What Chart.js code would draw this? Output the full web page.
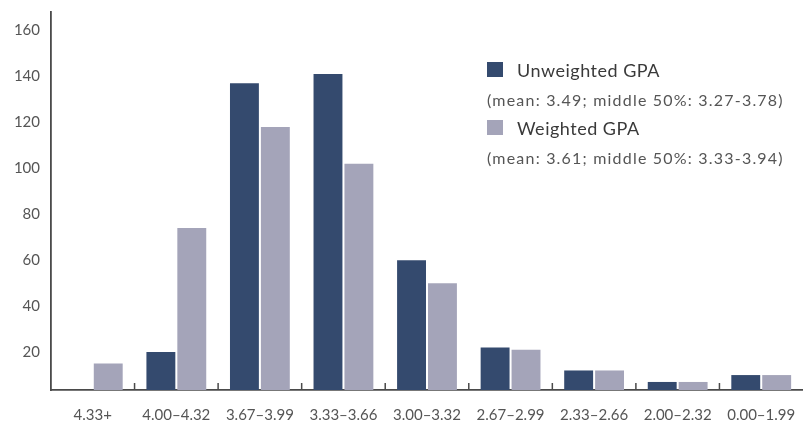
<!DOCTYPE html>
<html>
<head>
<meta charset="utf-8">
<title>GPA distribution</title>
<script src="https://cdn.jsdelivr.net/npm/chart.js@4.4.1/dist/chart.umd.min.js"></script>
<style>
  html, body { margin: 0; padding: 0; background: #fff; overflow: hidden; }
  #wrap { width: 803px; height: 421px; position: relative; }
</style>
</head>
<body>
<div id="wrap"><canvas id="chart"></canvas></div>
<script>
  "use strict";

  // ---- data ----
  const categories = ["4.33+", "4.00–4.32", "3.67–3.99", "3.33–3.66", "3.00–3.32",
                      "2.67–2.99", "2.33–2.66", "2.00–2.32", "0.00–1.99"];
  const unweighted = [0, 20, 137, 141, 60, 22, 12, 7, 10];
  const weighted   = [15, 74, 118, 102, 50, 21, 12, 7, 10];
  const seriesNames = ["Unweighted GPA", "Weighted GPA"];
  const seriesNotes = ["(mean: 3.49; middle 50%: 3.27-3.78)",
                       "(mean: 3.61; middle 50%: 3.33-3.94)"];
  const yTicks = [20, 40, 60, 80, 100, 120, 140, 160];

  const NAVY = "#344a6e";
  const GREY = "#a4a4b9";
  const AXIS = "#4a4a4a";
  const FONT = "Lato, 'Open Sans', sans-serif";

  /* Legend drawn by hand: swatch + name, then the note on its own line */
  const noteLegend = {
    id: "noteLegend",
    afterDraw(chart) {
      const ctx = chart.ctx;
      const x = 487, rows = [70, 128];
      ctx.save();
      ctx.textBaseline = "middle";
      chart.data.datasets.forEach((ds, i) => {
        const y = rows[i];
        ctx.fillStyle = ds.backgroundColor;
        ctx.fillRect(x, y - 8, 16, 15);
        ctx.fillStyle = "#3a3a3a";
        ctx.font = "18px " + FONT;
        ctx.letterSpacing = "0.5px";
        ctx.fillText(ds.label, x + 30, y + 1);
        ctx.fillStyle = "#555";
        ctx.font = "16px " + FONT;
        ctx.letterSpacing = "1.2px";
        ctx.fillText(seriesNotes[i], x, y + 31);
      });
      ctx.restore();
    },
  };

  /* Short upward tick marks between categories, sitting on the x axis */
  const catTicks = {
    id: "catTicks",
    afterDatasetsDraw(chart) {
      const xs = chart.scales.x, ctx = chart.ctx;
      const base = chart.chartArea.bottom;
      ctx.save();
      ctx.strokeStyle = AXIS;
      ctx.lineWidth = 1.5;
      ctx.beginPath();
      for (let i = 1; i < categories.length; i++) {
        const px = (xs.getPixelForValue(i - 1) + xs.getPixelForValue(i)) / 2;
        ctx.moveTo(px, base);
        ctx.lineTo(px, base - 7);
      }
      ctx.stroke();
      ctx.restore();
    },
  };

  new Chart(document.getElementById("chart"), {
    type: "bar",
    data: {
      labels: categories,
      datasets: [
        { label: seriesNames[0], data: unweighted, backgroundColor: NAVY },
        { label: seriesNames[1], data: weighted, backgroundColor: GREY },
      ],
    },
    options: {
      responsive: true,
      maintainAspectRatio: false,
      animation: false,
      layout: { padding: { top: 12, right: 0, left: 0, bottom: 0 } },
      datasets: { bar: { categoryPercentage: 0.74, barPercentage: 0.935 } },
      plugins: { legend: { display: false }, tooltip: { enabled: false } },
      scales: {
        x: {
          grid: { display: false, drawTicks: false },
          border: { color: AXIS, width: 1.8 },
          ticks: { color: "#555", font: { family: FONT, size: 15 }, padding: 16, maxRotation: 0, autoSkip: false },
          afterFit: (s) => { s.height = 31; s.paddingLeft = 0; s.paddingRight = 0; },
        },
        y: {
          min: 3.5,
          max: 168,
          afterBuildTicks: (axis) => { axis.ticks = yTicks.map((v) => ({ value: v })); },
          grid: { display: false, drawTicks: false },
          border: { color: AXIS, width: 1.8 },
          ticks: { color: "#555", font: { family: FONT, size: 15 }, padding: 11 },
          afterFit: (s) => { s.width = 51; s.paddingTop = 0; s.paddingBottom = 0; },
        },
      },
    },
    plugins: [catTicks, noteLegend],
  });
</script>
</body>
</html>
